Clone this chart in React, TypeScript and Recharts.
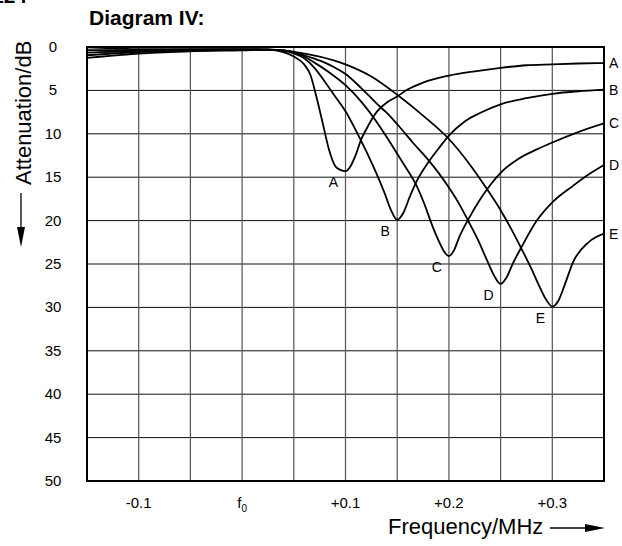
import React from 'react';
import {
  LineChart,
  Line,
  XAxis,
  YAxis,
  CartesianGrid,
  ReferenceArea,
  ReferenceDot
} from 'recharts';

// frequency offset (MHz) grid and labels
const freqTicks = [-0.15, -0.1, -0.05, 0, 0.05, 0.1, 0.15, 0.2, 0.25, 0.3, 0.35];
const freqLabels: Record<string, string> = {
  '-0.10': '-0.1',
  '0.00': 'f0',
  '0.10': '+0.1',
  '0.20': '+0.2',
  '0.30': '+0.3'
};
const attTicks = [0, 5, 10, 15, 20, 25, 30, 35, 40, 45, 50];

// curve A
const aFreq = [-0.15, -0.125, -0.1, -0.05, 0, 0.025, 0.04, 0.05, 0.06, 0.066, 0.072, 0.078, 0.084, 0.09, 0.095, 0.1, 0.105, 0.11, 0.115, 0.12, 0.13, 0.14, 0.15, 0.16, 0.175, 0.2, 0.225, 0.25, 0.275, 0.3, 0.325, 0.35];
const aAtt = [0.05, 0.15, 0.25, 0.25, 0.25, 0.3, 0.6, 1.1, 2.0, 3.2, 5.8, 8.8, 11.8, 13.7, 14.15, 14.3, 13.7, 12.4, 10.7, 9.5, 7.5, 6.4, 5.7, 4.9, 4.1, 3.3, 2.8, 2.4, 2.1, 2.0, 1.9, 1.85];

// curve B
const bFreq = [-0.15, -0.125, -0.1, -0.05, 0, 0.025, 0.04, 0.05, 0.06, 0.07, 0.08, 0.09, 0.1, 0.11, 0.12, 0.13, 0.138, 0.144, 0.15, 0.156, 0.162, 0.17, 0.18, 0.19, 0.2, 0.215, 0.23, 0.25, 0.275, 0.3, 0.325, 0.35];
const bAtt = [0.35, 0.35, 0.35, 0.3, 0.28, 0.3, 0.45, 0.75, 1.3, 2.4, 4.0, 5.7, 7.4, 9.6, 12.0, 14.6, 16.9, 18.8, 19.9, 19.1, 17.3, 15.2, 13.3, 11.7, 10.2, 8.6, 7.6, 6.6, 5.9, 5.4, 5.1, 4.9];

// curve C
const cFreq = [-0.15, -0.125, -0.1, -0.05, 0, 0.025, 0.04, 0.05, 0.06, 0.07, 0.084, 0.1, 0.116, 0.13, 0.14, 0.15, 0.16, 0.168, 0.176, 0.184, 0.19, 0.195, 0.2, 0.205, 0.21, 0.22, 0.23, 0.24, 0.25, 0.267, 0.285, 0.3, 0.325, 0.35];
const cAtt = [0.65, 0.55, 0.45, 0.35, 0.3, 0.3, 0.4, 0.65, 1.1, 1.8, 2.9, 4.4, 6.4, 8.6, 10.4, 12.3, 14.2, 15.8, 18.0, 20.6, 22.3, 23.5, 24.1, 23.4, 21.9, 19.6, 17.6, 15.9, 14.5, 12.9, 11.8, 11.0, 9.8, 8.8];

// curve D
const dFreq = [-0.15, -0.125, -0.1, -0.05, 0, 0.025, 0.04, 0.05, 0.06, 0.07, 0.08, 0.09, 0.1, 0.115, 0.13, 0.14, 0.15, 0.165, 0.18, 0.19, 0.2, 0.21, 0.219, 0.228, 0.237, 0.244, 0.25, 0.256, 0.262, 0.27, 0.285, 0.3, 0.32, 0.335, 0.35];
const dAtt = [0.95, 0.75, 0.6, 0.4, 0.33, 0.3, 0.4, 0.6, 0.95, 1.35, 1.8, 2.4, 3.1, 4.7, 6.5, 7.6, 8.9, 11.0, 13.0, 14.5, 16.2, 18.1, 20.1, 22.2, 24.6, 26.4, 27.3, 26.5, 24.9, 23.1, 20.0, 17.9, 16.0, 14.7, 13.6];

// curve E
const eFreq = [-0.15, -0.125, -0.1, -0.05, 0, 0.025, 0.04, 0.05, 0.075, 0.1, 0.125, 0.15, 0.175, 0.2, 0.22, 0.237, 0.25, 0.26, 0.27, 0.28, 0.288, 0.294, 0.3, 0.306, 0.312, 0.32, 0.335, 0.35];
const eAtt = [1.25, 1.0, 0.75, 0.5, 0.38, 0.3, 0.38, 0.55, 1.1, 2.0, 3.4, 5.5, 7.9, 10.6, 13.5, 16.4, 18.8, 20.9, 23.2, 25.6, 27.7, 29.1, 29.9, 29.2, 27.4, 24.8, 22.5, 21.5];

const curveNames = ['A', 'B', 'C', 'D', 'E'];
const curveFreqs = [aFreq, bFreq, cFreq, dFreq, eFreq];
const curveAtts = [aAtt, bAtt, cAtt, dAtt, eAtt];

const FONT = '"Liberation Sans", Arial, Helvetica, sans-serif';

const series = curveNames.map((name, i) => ({
  name,
  data: curveFreqs[i].map((x, j) => ({ x, y: curveAtts[i][j] }))
}));

const FreqTick = (props: any) => {
  const { x, y, payload } = props;
  const key = Number(payload.value).toFixed(2);
  const label = freqLabels[key];
  if (!label) return null;
  if (label === 'f0') {
    return (
      <text x={x} y={y + 19} textAnchor="middle" fontSize={15} fontFamily={FONT} fill="#000">
        f<tspan fontSize={10} dy={4}>0</tspan>
      </text>
    );
  }
  return (
    <text x={x} y={y + 19} textAnchor="middle" fontSize={15} fontFamily={FONT} fill="#000">
      {label}
    </text>
  );
};

const AttTick = (props: any) => {
  const { x, y, payload } = props;
  return (
    <text x={x - 26} y={y + 5} textAnchor="middle" fontSize={15} fontFamily={FONT} fill="#000">
      {payload.value}
    </text>
  );
};

const NotchLabel = (name: string) => (props: any) => (
  <text x={props.cx - 12} y={props.cy + 16} textAnchor="middle" fontSize={14} fontFamily={FONT} fill="#000">
    {name}
  </text>
);

const EndLabel = (name: string) => (props: any) => (
  <text x={props.cx + 5} y={props.cy + 5} textAnchor="start" fontSize={14} fontFamily={FONT} fill="#000">
    {name}
  </text>
);

const App: React.FC = () => {
  return (
    <div style={{ position: 'absolute', left: 0, top: 0, width: 622, height: 546, background: '#fff' }}>
      <LineChart width={622} height={546} margin={{ top: 47, right: 18, bottom: 35, left: 27 }}>
        <CartesianGrid vertical={false} stroke="#111" strokeWidth={1} />
        <CartesianGrid horizontal={false} stroke="#555" strokeWidth={1.2} />
        <XAxis
          type="number"
          dataKey="x"
          domain={[-0.15, 0.35]}
          ticks={freqTicks}
          interval={0}
          axisLine={false}
          tickLine={false}
          height={30}
          tick={<FreqTick />}
          allowDataOverflow
        />
        <YAxis
          type="number"
          dataKey="y"
          domain={[0, 50]}
          ticks={attTicks}
          interval={0}
          reversed
          axisLine={false}
          tickLine={false}
          width={60}
          tick={<AttTick />}
          allowDataOverflow
        />
        <ReferenceArea x1={-0.15} x2={0.35} y1={0} y2={50} fill="none" stroke="#000" strokeWidth={2} fillOpacity={0} ifOverflow="visible" />
        {series.map((s) => (
          <Line
            key={s.name}
            data={s.data}
            dataKey="y"
            name={s.name}
            type="monotone"
            stroke="#000"
            strokeWidth={1.8}
            dot={false}
            activeDot={false}
            isAnimationActive={false}
          />
        ))}
        {series.map((s, i) => {
          const atts = curveAtts[i];
          const minIdx = atts.indexOf(Math.max(...atts));
          return (
            <ReferenceDot
              key={'n' + s.name}
              x={curveFreqs[i][minIdx]}
              y={atts[minIdx]}
              r={1}
              ifOverflow="visible"
              shape={NotchLabel(s.name)}
            />
          );
        })}
        {series.map((s, i) => {
          const last = curveAtts[i].length - 1;
          return (
            <ReferenceDot
              key={'e' + s.name}
              x={curveFreqs[i][last]}
              y={curveAtts[i][last]}
              r={1}
              ifOverflow="visible"
              shape={EndLabel(s.name)}
            />
          );
        })}
      </LineChart>
      <svg
        width={622}
        height={546}
        style={{ position: 'absolute', left: 0, top: 0, pointerEvents: 'none' }}
      >
        <text x={-8} y={3} fontSize={21} fontWeight="bold" fontFamily={FONT} fill="#000">124</text>
        <text x={89} y={25} fontSize={21} fontWeight="bold" fontFamily={FONT} fill="#000">Diagram IV:</text>
        <text
          transform="translate(30.5,185) rotate(-90)"
          fontSize={22}
          fontFamily={FONT}
          fill="#000"
        >
          Attenuation/dB
        </text>
        <line x1={21} y1={193} x2={21} y2={230} stroke="#000" strokeWidth={1.3} />
        <polygon points="17,227 25,227 21,247" fill="#000" />
        <text x={388} y={534} fontSize={22} fontFamily={FONT} fill="#000">Frequency/MHz</text>
        <line x1={550} y1={528} x2={588} y2={528} stroke="#000" strokeWidth={1.3} />
        <polygon points="585,524 585,532 605,528" fill="#000" />
      </svg>
    </div>
  );
};

export default App;
